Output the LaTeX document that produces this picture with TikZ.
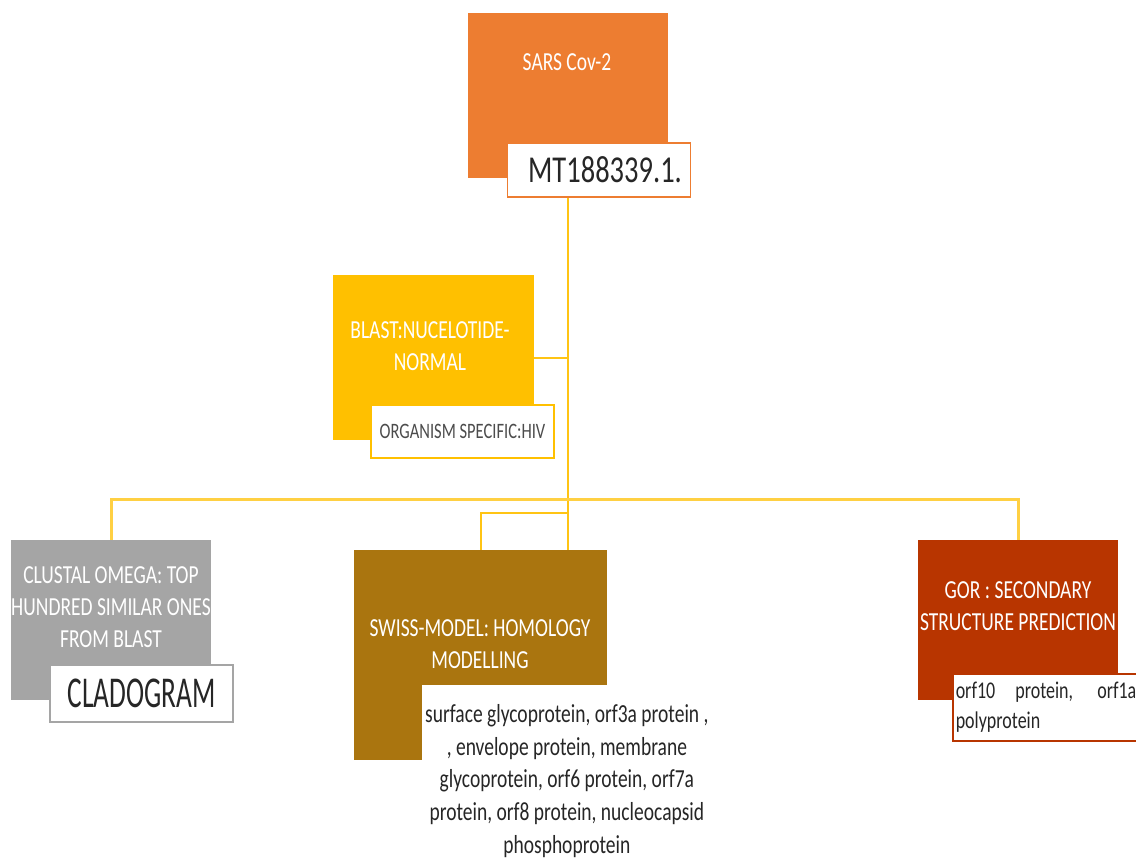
\documentclass[tikz,border=0pt]{standalone}
\usepackage{fontspec}
\setmainfont{Carlito}[FakeStretch=0.75]
\newfontfamily\narrowfont{Carlito}[FakeStretch=0.62]
\usepackage{tikz}
\definecolor{sarsorange}{RGB}{237,125,49}
\definecolor{blastgold}{RGB}{255,192,0}
\definecolor{clustalgrey}{RGB}{165,165,165}
\definecolor{swissbrown}{RGB}{170,117,15}
\definecolor{gorred}{RGB}{184,53,0}
\definecolor{linkyellow}{RGB}{255,196,20}
% font size with narrow word spaces
\newcommand\fsize[2]{\fontsize{#1}{#2}\selectfont\spaceskip=0.17em plus 0.1em minus 0.03em\relax}
\tikzset{
  box/.style={rectangle, inner sep=0pt, minimum width=200pt, minimum height=165pt},
  heading/.style={text=white, align=center, font=\fsize{26}{32}},
  tagbox/.style={draw, fill=white, line width=1.5pt, inner sep=0pt,
    minimum width=183pt, minimum height=54pt, text=black!85},
  link/.style={draw=linkyellow, line width=2pt}
}

\begin{document}
\begin{tikzpicture}[x=1pt,y=-1pt]
    \useasboundingbox (0,0) rectangle (1136,859);
    \clip (0,0) rectangle (1136,859);
    % Boxes of the tree
    \node[box, fill=sarsorange] (sars) at (568,95.5) {};
    \node[box, fill=blastgold, minimum width=201pt] (blast) at (433.5,357.5) {};
    \node[box, fill=clustalgrey, minimum height=160pt] (clustal) at (111,620) {};
    \node[box, fill=swissbrown, minimum width=253pt, minimum height=210pt] (swiss) at (480.5,655) {};
    \node[box, fill=gorred, minimum height=160pt] (gor) at (1018,620) {};
    % Tags over the boxes
    \node[tagbox, draw=sarsorange, font=\fsize{38}{44}] (mtid) at (599,170) {\hspace*{12pt}MT188339.1.};
    \node[tagbox, draw=blastgold, text=black!70, minimum height=53pt,
      font=\fsize{22}{26}] (organism) at (462.5,431.5) {ORGANISM SPECIFIC:HIV};
    \node[tagbox, draw=clustalgrey, minimum height=57pt,
      font=\narrowfont\fsize{44}{50}] (cladogram) at (141.5,693.5) {CLADOGRAM};
    \node[fill=white, anchor=north west, inner xsep=3pt, inner ysep=19pt,
      align=center, text=black!85, font=\fsize{26}{32.75}] (proteins) at (422,685)
      {surface glycoprotein, orf3a protein ,\\ , envelope protein, membrane\\
       glycoprotein, orf6 protein, orf7a\\ protein, orf8 protein, nucleocapsid\\ phosphoprotein};
    \node[tagbox, draw=gorred, anchor=north west, text width=190pt, inner xsep=3pt,
      minimum height=67pt, align=justify, font=\fsize{24}{30}] (orfs) at (952,673)
      {orf10 protein, orf1ab\linebreak polyprotein};
    % Connectors
    \coordinate (split) at (568,499);
    \coordinate (fork) at (568,513);
    \draw[link] (mtid.south -| split) -- (swiss.north -| split);
    \draw[link] (blast.east) -- (blast.east -| split);
    \draw[link, line width=3pt, draw=linkyellow!80] (clustal.north) |- (split) -| (gor.north);
    \draw[link] (fork) -| (swiss.north);
    % Headings
    \node[heading] (sarstext) at (567,62) {SARS Cov-2};
    \node[heading] (blasttext) at (430,346) {BLAST:NUCELOTIDE-\\NORMAL};
    \node[heading] (clustaltext) at (111,607) {CLUSTAL OMEGA: TOP\\HUNDRED SIMILAR ONES\\FROM BLAST};
    \node[heading] (swisstext) at (480,644) {SWISS-MODEL: HOMOLOGY\\MODELLING};
    \node[heading] (gortext) at (1018,606) {GOR : SECONDARY\\STRUCTURE PREDICTION};
\end{tikzpicture}
\end{document}
